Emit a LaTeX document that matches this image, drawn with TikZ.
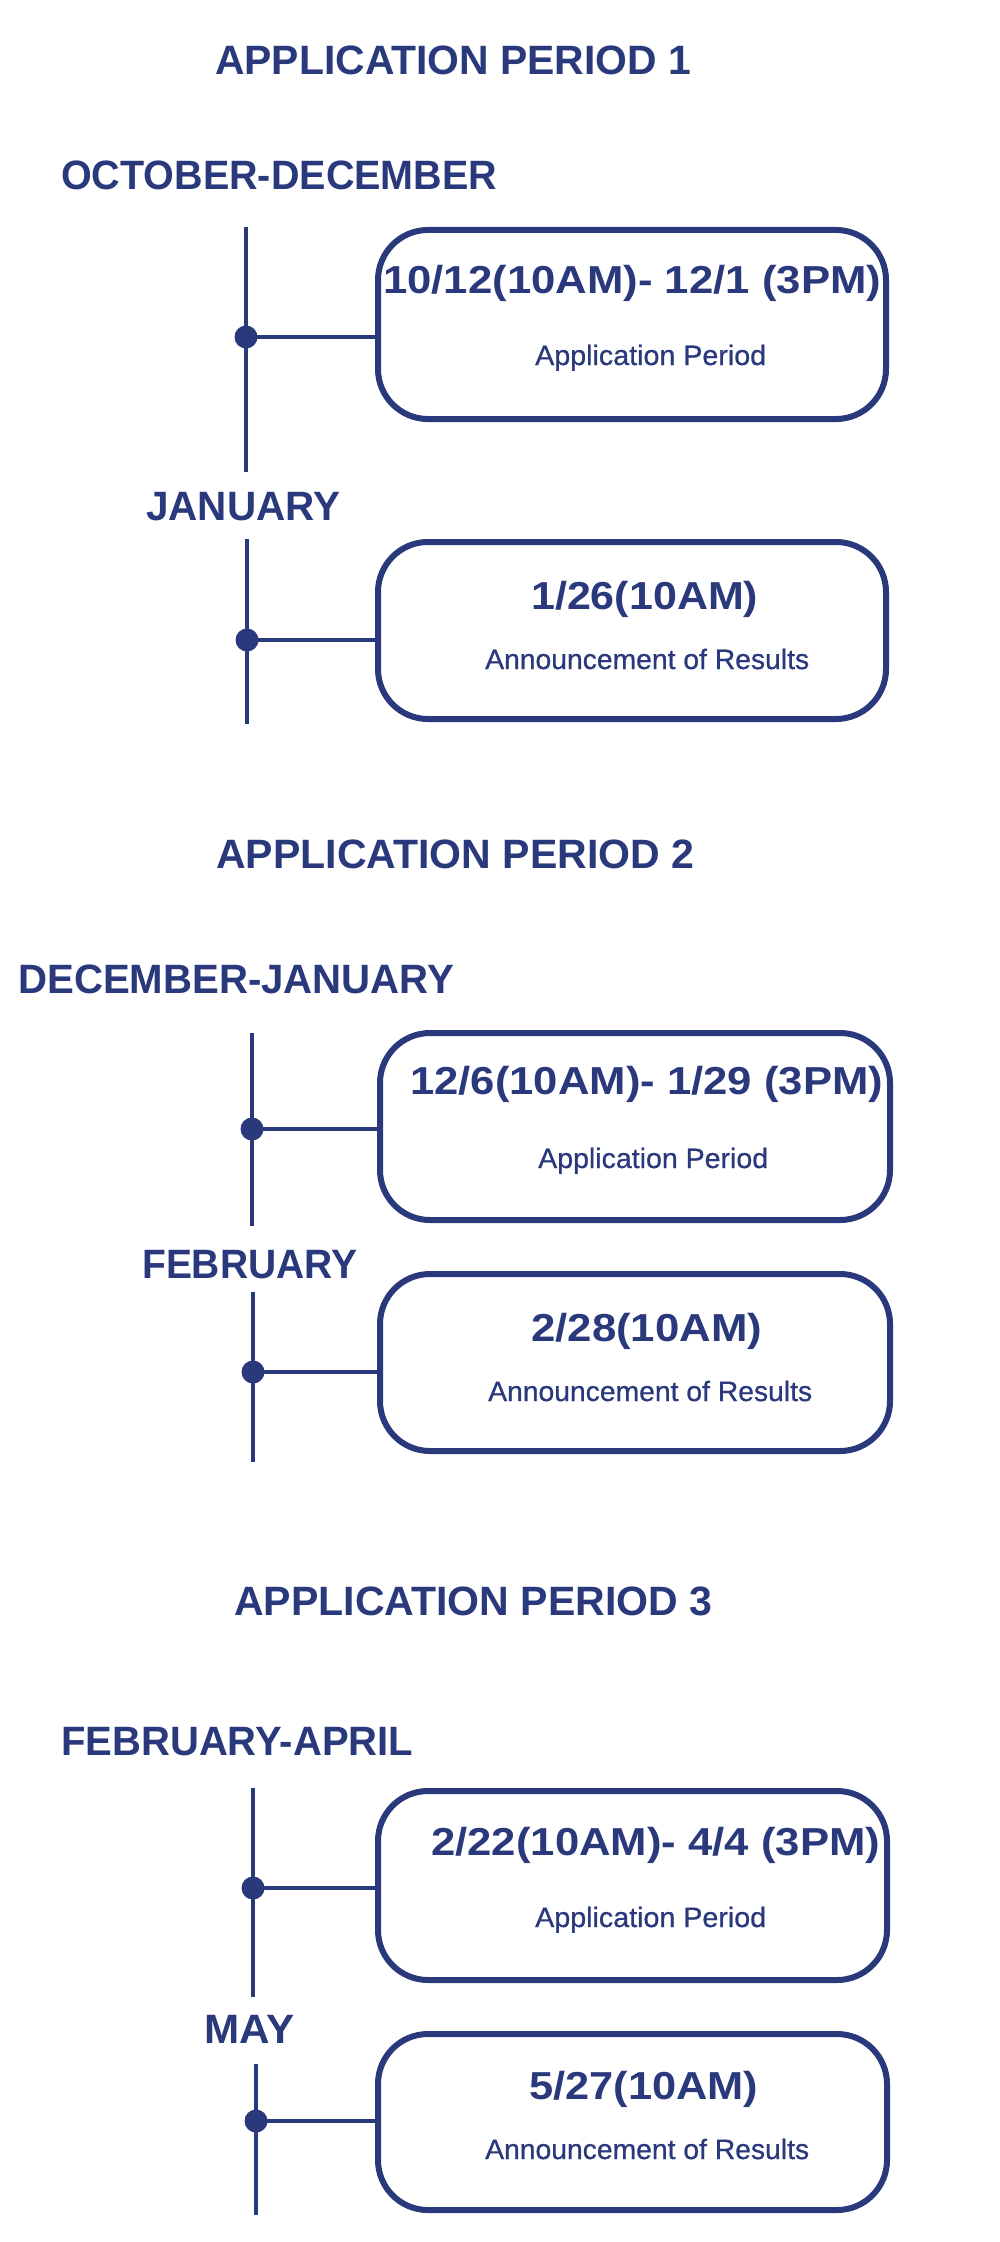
\documentclass[tikz,border=0pt]{standalone}
\usepackage{fontspec}
\usepackage{graphicx}
\setmainfont{Liberation Sans}
\newfontfamily\subfont[FakeBold=0.7]{Liberation Sans}
\definecolor{navy}{RGB}{42,56,124}
\newcommand{\fitw}[2]{\resizebox{#1}{\height}{#2}}
\begin{document}
\begin{tikzpicture}[x=1pt,y=-1pt,
  hd/.style={text=navy, inner sep=0pt, anchor=base west, font=\bfseries\fontsize{41}{41}\selectfont},
  mn/.style={text=navy, inner sep=0pt, anchor=base west, font=\bfseries\fontsize{39}{39}\selectfont},
  sb/.style={text=navy, inner sep=0pt, anchor=base west, font=\subfont\fontsize{28}{28}\selectfont},
  tbox/.style={draw=navy, line width=6pt, rounded corners=50pt, inner sep=0pt},
  tdot/.style={circle, fill=navy, inner sep=0pt, minimum size=23pt},
  vln/.style={draw=navy, line width=4pt},
  conn/.style={draw=navy, line width=4pt}]
\useasboundingbox (0,0) rectangle (1000,2242);
\fill[white] (0,0) rectangle (1000,2242);

% ---------- Period 1 ----------
\node[hd] (t1) at (215,75) {\fitw{476pt}{APPLICATION PERIOD 1}};
\node[hd] (m1a) at (61,190) {\fitw{436pt}{OCTOBER-DECEMBER}};
\node[hd] (m1b) at (146,520) {\fitw{194pt}{JANUARY}};

\node[tbox, minimum width=508pt, minimum height=189pt] (b1a) at (632,324.5) {};
\node[mn] (x1a) at (383,293) {\fitw{498pt}{10/12(10AM)- 12/1 (3PM)}};
\node[sb] (s1a) at (535,365) {\fitw{231pt}{Application Period}};

\node[tbox, minimum width=508pt, minimum height=177pt] (b1b) at (632,630.5) {};
\node[mn] (x1b) at (531,609) {\fitw{227pt}{1/26(10AM)}};
\node[sb] (s1b) at (485,669) {\fitw{324pt}{Announcement of Results}};

\coordinate (l1at) at (246,227);
\coordinate (l1ab) at (246,472);
\coordinate (l1bt) at (247,539);
\coordinate (l1bb) at (247,724);
\draw[vln] (l1at) -- (l1ab);
\draw[vln] (l1bt) -- (l1bb);
\node[tdot] (d1a) at (246,337) {};
\node[tdot] (d1b) at (247,640) {};
\draw[conn] (d1a.center) -- (d1a -| b1a.west);
\draw[conn] (d1b.center) -- (d1b -| b1b.west);

% ---------- Period 2 ----------
\node[hd] (t2) at (216,868) {\fitw{478pt}{APPLICATION PERIOD 2}};
\node[hd] (m2a) at (18,993) {\fitw{436pt}{DECEMBER-JANUARY}};
\node[hd] (m2b) at (142,1278) {\fitw{215pt}{FEBRUARY}};

\node[tbox, minimum width=510pt, minimum height=187pt] (b2a) at (635,1126.5) {};
\node[mn] (x2a) at (410,1094) {\fitw{473pt}{12/6(10AM)- 1/29 (3PM)}};
\node[sb] (s2a) at (538,1168) {\fitw{230pt}{Application Period}};

\node[tbox, minimum width=510pt, minimum height=177pt] (b2b) at (635,1362.5) {};
\node[mn] (x2b) at (531,1341) {\fitw{231pt}{2/28(10AM)}};
\node[sb] (s2b) at (488,1401) {\fitw{324pt}{Announcement of Results}};

\coordinate (l2at) at (252,1033);
\coordinate (l2ab) at (252,1226);
\coordinate (l2bt) at (253,1292);
\coordinate (l2bb) at (253,1462);
\draw[vln] (l2at) -- (l2ab);
\draw[vln] (l2bt) -- (l2bb);
\node[tdot] (d2a) at (252,1129) {};
\node[tdot] (d2b) at (253,1372) {};
\draw[conn] (d2a.center) -- (d2a -| b2a.west);
\draw[conn] (d2b.center) -- (d2b -| b2b.west);

% ---------- Period 3 ----------
\node[hd] (t3) at (234,1615) {\fitw{478pt}{APPLICATION PERIOD 3}};
\node[hd] (m3a) at (61,1755) {\fitw{352pt}{FEBRUARY-APRIL}};
\node[hd] (m3b) at (204,2043) {\fitw{90pt}{MAY}};

\node[tbox, minimum width=509pt, minimum height=189pt] (b3a) at (632.5,1885.5) {};
\node[mn] (x3a) at (431,1855) {\fitw{449pt}{2/22(10AM)- 4/4 (3PM)}};
\node[sb] (s3a) at (535,1927) {\fitw{231pt}{Application Period}};

\node[tbox, minimum width=509pt, minimum height=176pt] (b3b) at (632.5,2122) {};
\node[mn] (x3b) at (529,2099) {\fitw{229pt}{5/27(10AM)}};
\node[sb] (s3b) at (485,2159) {\fitw{324pt}{Announcement of Results}};

\coordinate (l3at) at (253,1788);
\coordinate (l3ab) at (253,1997);
\coordinate (l3bt) at (256,2064);
\coordinate (l3bb) at (256,2215);
\draw[vln] (l3at) -- (l3ab);
\draw[vln] (l3bt) -- (l3bb);
\node[tdot] (d3a) at (253,1888) {};
\node[tdot] (d3b) at (256,2121) {};
\draw[conn] (d3a.center) -- (d3a -| b3a.west);
\draw[conn] (d3b.center) -- (d3b -| b3b.west);
\end{tikzpicture}
\end{document}
